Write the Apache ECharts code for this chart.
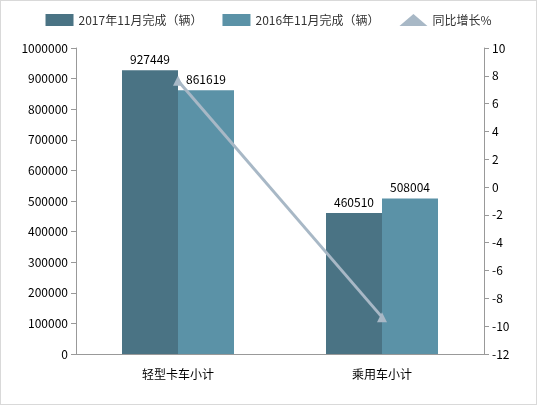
<!DOCTYPE html>
<html><head><meta charset="utf-8">
<script src="https://cdn.jsdelivr.net/npm/echarts@6/dist/echarts.min.js"></script>
<style>html,body{margin:0;padding:0;background:#fff}#c{width:537px;height:405px;box-sizing:border-box;border:1px solid #d9d9d9}</style>
</head><body><div id="c"></div>
<script>
const categories = ['轻型卡车小计','乘用车小计'];
const s2017 = [927449, 460510];
const s2016 = [861619, 508004];
const growth = [7.64, -9.35];
const names = ['2017年11月完成（辆）','2016年11月完成（辆）','同比增长%'];
const chart = echarts.init(document.getElementById('c'));
const font = 'Microsoft YaHei, Noto Sans CJK SC, sans-serif';
chart.setOption({
  textStyle:{fontFamily:font},
  legend:{top:8,left:'center',itemWidth:28,itemHeight:12,itemGap:20,textStyle:{fontSize:12,color:'#333'},
    data:[{name:names[0],icon:'rect'},{name:names[1],icon:'rect'},{name:names[2],icon:'triangle'}]},
  grid:{left:75,right:52,top:47,bottom:50},
  xAxis:{type:'category',data:categories,axisTick:{show:false},axisLine:{lineStyle:{color:'#999'}},
    axisLabel:{color:'#000',fontSize:12,margin:14}},
  yAxis:[{type:'value',min:0,max:1000000,interval:100000,axisLine:{show:true,lineStyle:{color:'#999'}},
    axisTick:{show:true},splitLine:{show:false},axisLabel:{color:'#000',fontSize:12,formatter:v=>String(v)}},
    {type:'value',min:-12,max:10,interval:2,axisLine:{show:true,lineStyle:{color:'#999'}},axisTick:{show:true},
    splitLine:{show:false},axisLabel:{color:'#000',fontSize:12}}],
  series:[
    {name:names[0],type:'bar',data:s2017,barWidth:56,barGap:'0%',itemStyle:{color:'#4a7384'},
     label:{show:true,position:'top',color:'#000',fontSize:12}},
    {name:names[1],type:'bar',data:s2016,barWidth:56,itemStyle:{color:'#5b92a7'},
     label:{show:true,position:'top',color:'#000',fontSize:12}},
    {name:names[2],type:'line',yAxisIndex:1,data:growth,symbol:'triangle',symbolSize:10,
     lineStyle:{color:'#a8b8c6',width:3},itemStyle:{color:'#a8b8c6'}}
  ]
});
</script></body></html>
